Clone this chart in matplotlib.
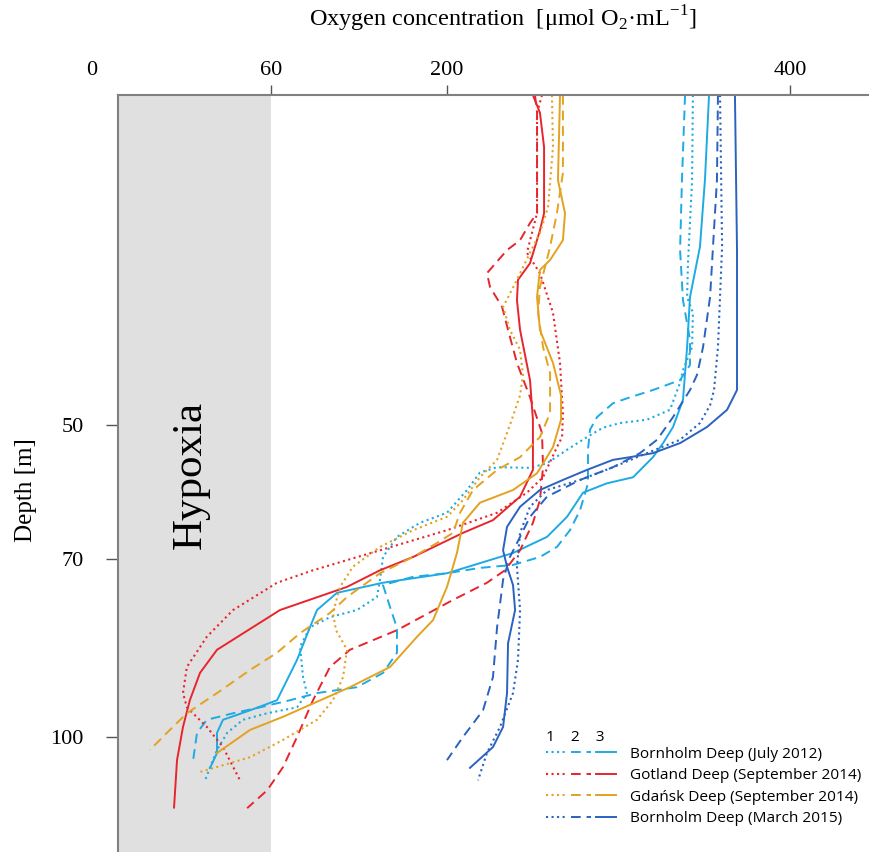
import numpy as np
import matplotlib.pyplot as plt
from matplotlib.lines import Line2D
from matplotlib.legend_handler import HandlerTuple

plt.rcParams["font.family"] = ["Liberation Serif", "DejaVu Serif"]
plt.rcParams["mathtext.fontset"] = "custom"
plt.rcParams["mathtext.rm"] = "Liberation Serif"

# oxygen [umol/mL] vs depth [m]; 1 = dotted, 2 = dashed, 3 = solid
# Bornholm Deep (July 2012)
bj1_o2 = [343.4, 342.9, 340.5, 340.0, 343.4, 342.9, 337.6, 335.9, 330.0, 316.6, 300.9, 291.0, 281.6,
          270.0, 258.3, 248.4, 229.2, 219.2, 211.7, 200.0, 178.5, 160.2, 149.1, 146.7, 144.3, 128.4,
          106.9, 91.0, 83.1, 85.5, 88.6, 80.7, 58.7, 50.6, 45.3, 41.9, 39.6, 37.9]
bj1_z = [0, 12.9, 25.5, 30.6, 33.0, 38.2, 41.7, 43.6, 47.7, 49.2, 49.7, 50.4, 51.8,
         53.7, 55.7, 56.4, 56.3, 57.1, 59.7, 63.1, 64.6, 66.7, 69.7, 73.5, 76.4, 78.6,
         79.8, 81.5, 84.8, 89.9, 92.6, 95.0, 96.0, 97.1, 99.3, 102.2, 105.1, 107.3]
bj2_o2 = [338.8, 337.0, 335.9, 337.6, 341.7, 341.7, 335.9, 320.1, 306.7, 296.8, 287.5, 283.4, 282.2,
          282.2, 277.6, 271.7, 264.1, 254.2, 238.5, 219.2, 200.0, 173.0, 149.1, 154.7, 160.2, 160.2,
          149.1, 128.4, 96.6, 75.1, 56.3, 47.3, 38.5, 35.2, 33.9]
bj2_z = [0, 12.9, 23.5, 31.1, 37.1, 40.9, 43.2, 44.7, 45.8, 46.7, 48.8, 50.7, 53.7,
         58.7, 62.7, 65.7, 68.2, 69.7, 71.0, 71.5, 72.4, 73.0, 74.4, 78.1, 81.6, 85.8,
         89.2, 91.6, 92.6, 93.8, 95.0, 96.0, 97.1, 99.3, 103.9]
bj3_o2 = [352.8, 350.4, 347.5, 341.7, 340.0, 337.6, 331.8, 326.0, 320.1, 308.5, 293.3, 279.3, 270.0,
          258.3, 238.5, 219.2, 200.0, 149.1, 112.5, 96.6, 91.0, 80.7, 64.8, 53.0, 43.9, 41.9, 41.9, 39.6]
bj3_z = [0, 12.9, 23.0, 30.6, 38.2, 46.2, 50.3, 52.7, 54.8, 57.8, 58.7, 60.1, 63.7,
         66.7, 69.1, 70.7, 72.4, 74.0, 75.7, 78.6, 81.5, 87.0, 93.8, 95.5, 97.1, 99.3, 102.7, 105.2]

# Gotland Deep (September 2014)
gt1_o2 = [255.4, 252.5, 252.5, 246.6, 254.2, 261.8, 265.9, 267.6, 267.1, 264.1, 256.0, 246.6, 229.2,
          200.0, 146.7, 93.4, 64.8, 47.3, 38.5, 31.8, 30.5, 31.8, 38.5, 43.9, 49.6]
gt1_z = [0, 2.7, 17.9, 23.9, 27.0, 33.0, 40.6, 48.2, 51.8, 53.3, 57.8, 60.1, 63.1,
         65.7, 68.7, 71.9, 74.0, 78.6, 83.1, 88.2, 92.6, 95.0, 98.3, 101.7, 107.3]
gt2_o2 = [251.3, 252.5, 252.5, 248.4, 242.6, 235.0, 223.3, 225.1, 232.1, 235.6, 240.8, 248.4, 255.4,
          256.0, 254.2, 250.1, 242.6, 233.8, 223.3, 203.5, 178.5, 160.2, 122.8, 106.9, 93.4, 80.7,
          69.5, 58.7, 52.0]
gt2_z = [0, 2.7, 17.9, 19.4, 22.0, 23.5, 27.0, 29.1, 32.1, 35.6, 40.6, 45.8, 51.2,
         56.3, 61.2, 64.6, 68.7, 71.9, 74.0, 76.9, 79.9, 82.0, 85.3, 88.2, 93.8, 100.0,
         105.1, 109.0, 112.0]
gt3_o2 = [250.1, 254.2, 256.6, 256.6, 254.2, 248.4, 241.4, 240.8, 242.6, 248.4, 250.1, 250.1, 242.6,
          226.8, 209.3, 173.0, 146.7, 120.5, 67.2, 41.9, 36.2, 32.8, 30.5, 28.5, 27.5]
gt3_z = [0, 2.7, 7.9, 17.9, 20.5, 25.5, 28.0, 31.1, 35.6, 43.2, 49.2, 56.7, 60.7,
         64.2, 66.1, 69.7, 71.9, 74.7, 78.6, 85.3, 89.2, 93.8, 98.3, 103.9, 111.9]

# Gdansk Deep (September 2014)
gd1_o2 = [261.2, 261.8, 258.9, 254.2, 248.4, 240.8, 232.7, 236.7, 242.6, 244.3, 242.6, 236.7, 229.2,
          219.2, 209.3, 200.0, 173.0, 146.7, 125.2, 114.9, 109.3, 111.7, 120.5, 117.3, 109.3, 96.6,
          69.5, 53.0, 36.2]
gd1_z = [0, 7.9, 17.0, 20.9, 23.9, 28.0, 32.1, 35.6, 38.6, 42.4, 45.5, 50.0, 55.2,
         57.8, 61.2, 63.7, 65.7, 68.2, 71.3, 74.7, 79.1, 82.0, 85.3, 89.9, 93.8, 97.1,
         100.5, 103.4, 105.9]
gd2_o2 = [267.6, 267.6, 264.1, 260.1, 254.2, 253.1, 256.0, 260.1, 260.1, 254.2, 242.6, 229.2, 215.2,
          207.6, 203.5, 192.1, 173.0, 146.7, 120.5, 106.9, 83.1, 64.8, 53.0, 41.9, 31.8, 25.1, 19.4]
gd2_z = [0, 11.8, 17.9, 23.0, 29.1, 33.0, 38.2, 42.1, 48.2, 51.8, 54.8, 56.7, 59.7,
         63.1, 66.1, 67.6, 69.7, 72.4, 76.4, 79.1, 82.5, 85.8, 88.7, 92.6, 96.0, 99.3, 102.2]
gd3_o2 = [265.9, 264.7, 268.8, 267.6, 260.1, 254.2, 252.5, 254.2, 261.8, 266.5, 266.5, 261.8, 252.5,
          238.5, 219.2, 209.3, 205.8, 200.0, 188.9, 176.2, 154.7, 122.8, 69.5, 53.0, 41.9]
gd3_z = [0, 12.9, 17.9, 22.0, 25.0, 26.5, 30.6, 35.6, 40.6, 45.5, 49.2, 53.3, 57.2,
         59.7, 61.6, 64.6, 69.1, 74.7, 80.3, 83.1, 88.2, 91.6, 96.6, 98.8, 102.7]

# Bornholm Deep (March 2015)
bm1_o2 = [359.2, 360.4, 358.0, 355.7, 353.4, 347.5, 335.9, 316.6, 296.8, 277.6, 258.3, 248.4, 242.6,
          240.8, 242.6, 241.4, 238.5, 230.9, 223.3, 218.1]
bm1_z = [0, 23.0, 38.2, 44.7, 47.0, 49.7, 52.2, 54.2, 56.3, 58.2, 59.7, 62.2, 66.1,
         71.3, 78.6, 87.0, 92.6, 98.3, 102.7, 107.3]
bm2_o2 = [358.0, 357.4, 355.1, 353.4, 349.3, 345.8, 341.7, 331.8, 322.5, 312.5, 296.8, 277.6, 258.3,
          248.4, 242.6, 236.7, 232.7, 229.2, 226.8, 221.0, 209.3, 200.0]
bm2_z = [0, 12.9, 23.0, 30.6, 38.2, 42.4, 44.7, 48.8, 52.2, 54.2, 56.3, 58.2, 60.7,
         63.7, 66.7, 69.7, 73.5, 81.5, 89.9, 95.5, 100.0, 103.9]
bm3_o2 = [367.9, 369.1, 369.1, 363.3, 351.6, 335.9, 320.1, 306.7, 296.8, 281.6, 267.6, 254.2, 242.6,
          235.0, 232.7, 235.0, 238.5, 239.7, 235.6, 235.0, 232.7, 226.8, 213.4]
bm3_z = [0, 23.5, 44.7, 47.7, 50.3, 52.7, 54.2, 54.8, 55.2, 56.7, 58.2, 59.7, 62.2,
         65.2, 68.7, 71.3, 74.4, 78.6, 84.2, 92.6, 98.3, 101.7, 105.2]

stations = ["Bornholm Deep (July 2012)", "Gotland Deep (September 2014)",
            "Gdańsk Deep (September 2014)", "Bornholm Deep (March 2015)"]
colors = ["#1eaae3", "#e8242c", "#e3a21f", "#2a62c0"]
profiles = [
    [(bj1_o2, bj1_z), (bj2_o2, bj2_z), (bj3_o2, bj3_z)],
    [(gt1_o2, gt1_z), (gt2_o2, gt2_z), (gt3_o2, gt3_z)],
    [(gd1_o2, gd1_z), (gd2_o2, gd2_z), (gd3_o2, gd3_z)],
    [(bm1_o2, bm1_z), (bm2_o2, bm2_z), (bm3_o2, bm3_z)],
]
hypoxia_limit = 60

# the original axes are not linear: piecewise mapping through the labelled ticks
x_knots = [-200, 0, 60, 200, 400, 2000]
x_pos = [92 - 200 * 179 / 60, 92, 271, 447, 790, 790 + 1600 * 343 / 200]
y_knots = [-100, 0, 50, 70, 100, 400]
y_pos = [95 - 100 * 6.6, 95, 425, 559, 737, 737 + 300 * 5.93]


def fx(v):
    return np.interp(v, x_knots, x_pos)


def fx_inv(u):
    return np.interp(u, x_pos, x_knots)


def fy(v):
    return np.interp(v, y_knots, y_pos)


def fy_inv(u):
    return np.interp(u, y_pos, y_knots)


fig = plt.figure(figsize=(8.69, 8.52), dpi=100)
ax = fig.add_axes([118 / 869, 0, 751 / 869, 757 / 852])
ax.set_xscale("function", functions=(fx, fx_inv))
ax.set_yscale("function", functions=(fy, fy_inv))
ax.set_xlim(fx_inv(118), fx_inv(869))
ax.set_ylim(fy_inv(852), 0)

ax.axvspan(0, hypoxia_limit, color="#e0e0e0", lw=0, zorder=0)

styles = [dict(ls=":", lw=1.5), dict(ls=(0, (5, 3)), lw=1.4), dict(ls="-", lw=1.4)]
for color, runs in zip(colors, profiles):
    for (o2, z), st in zip(runs, styles):
        ax.plot(o2, z, color=color, **st)

for s in ["right", "bottom"]:
    ax.spines[s].set_visible(False)
for s in ["top", "left"]:
    ax.spines[s].set_color("#808080")
    ax.spines[s].set_linewidth(1.5)

ax.xaxis.tick_top()
ax.set_xticks([60, 200, 400])
ax.set_xticklabels(["60", "200", "400"])
ax.set_yticks([50, 70, 100])
ax.tick_params(axis="x", length=7, width=1, color="#555555", pad=3.5, labelsize=16)
ax.tick_params(axis="y", length=8.5, width=1, color="#555555", pad=16, labelsize=16)
ax.minorticks_off()
ax.text(0, 1 + 15 / 757, "0", transform=ax.get_xaxis_transform(), ha="center", va="bottom",
        fontsize=16, clip_on=False)

ax.set_xlabel(r"Oxygen concentration  [μmol O$_2$·mL$^{-1}$]", fontsize=17.5)
ax.xaxis.set_label_position("top")
ax.xaxis.set_label_coords(0.513, 1.09)
ax.set_ylabel("Depth [m]", fontsize=18)
ax.yaxis.set_label_coords(-0.108, 0.478)

ax.text(33, 57.5, "Hypoxia", rotation=90, ha="center", va="center", fontsize=31)

handles = []
for c in colors:
    handles.append(tuple(Line2D([], [], color=c, **st) for st in styles))
leg = ax.legend(handles, stations, handler_map={tuple: HandlerTuple(ndivide=None, pad=0.3)},
                loc="lower left", bbox_to_anchor=(0.559, 0.024), frameon=False,
                handlelength=4.6, handletextpad=0.9, labelspacing=0.42, borderpad=0,
                title="1    2    3", alignment="left",
                prop={"family": "Open Sans", "size": 11.1},
                title_fontproperties={"family": "Open Sans", "size": 11.1})
leg._legend_box.sep = 1

fig.savefig("out.png", dpi=100)
